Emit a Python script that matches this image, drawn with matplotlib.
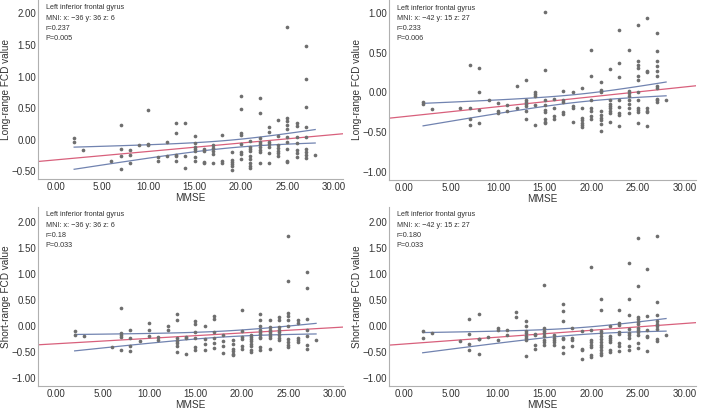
import numpy as np
import matplotlib
matplotlib.use("Agg")
import matplotlib.pyplot as plt

plt.rcParams['font.family'] = ['Liberation Sans', 'DejaVu Sans']

# FCD values grouped by MMSE score
long_a = {
    2: [0.03, -0.03], 3: [-0.16], 6: [-0.34], 7: [0.23, -0.15, -0.25, -0.46],
    8: [-0.16, -0.24, -0.37], 9: [-0.08], 10: [0.47, -0.06, -0.08],
    11: [-0.28, -0.33], 12: [-0.04, -0.26], 13: [0.26, 0.11, -0.24, -0.26, -0.34],
    14: [0.26, -0.26, -0.45], 15: [0.06, -0.05, -0.11, -0.14, -0.18, -0.27, -0.34],
    16: [-0.15, -0.18, -0.35, -0.37], 17: [-0.09, -0.13, -0.18, -0.22, -0.37],
    18: [0.08, -0.34, -0.36], 19: [-0.19, -0.32, -0.35, -0.38, -0.42, -0.47],
    20: [0.69, 0.49, 0.11, 0.07, -0.07, -0.19, -0.22, -0.31],
    21: [-0.02, -0.11, -0.14, -0.18, -0.25, -0.31, -0.37, -0.41, -0.45],
    22: [0.66, 0.43, 0.03, -0.03, -0.07, -0.11, -0.16, -0.20, -0.36],
    23: [0.20, 0.13, -0.03, -0.07, -0.11, -0.21, -0.36],
    24: [0.32, 0.06, -0.09, -0.13, -0.17, -0.21, -0.25],
    25: [1.79, 0.35, 0.29, 0.24, 0.17, 0.05, -0.03, -0.15, -0.33, -0.35],
    26: [0.27, 0.22, 0.05, -0.05, -0.16, -0.21, -0.27],
    27: [1.49, 0.96, 0.52, 0.21, 0.04, -0.15, -0.20, -0.24, -0.29],
    28: [-0.24],
}
long_b = {
    2: [-0.12, -0.15], 3: [-0.21], 6: [-0.20], 7: [0.34, -0.19, -0.34, -0.41],
    8: [0.30, 0.01, -0.22, -0.38], 9: [-0.09], 10: [-0.13, -0.23, -0.26],
    11: [-0.16, -0.23], 12: [0.08, -0.19],
    13: [0.15, -0.09, -0.12, -0.14, -0.17, -0.23, -0.33],
    14: [0.01, -0.02, -0.04, -0.16, -0.41],
    15: [1.01, 0.28, -0.09, -0.16, -0.22, -0.24, -0.34, -0.37, -0.39],
    16: [-0.08, -0.20, -0.30, -0.34], 17: [0.02, -0.09, -0.12, -0.24, -0.27],
    18: [0.00, -0.17, -0.19, -0.37], 19: [0.06, -0.20, -0.32, -0.35, -0.38, -0.41, -0.43],
    20: [0.53, 0.20, -0.09, -0.20, -0.23, -0.30, -0.34],
    21: [0.13, 0.03, 0.01, -0.23, -0.29, -0.32, -0.35, -0.40, -0.48],
    22: [0.29, -0.10, -0.14, -0.17, -0.20, -0.23, -0.26, -0.37],
    23: [0.78, 0.37, 0.19, -0.09, -0.18, -0.26, -0.29, -0.42],
    24: [0.53, 0.02, -0.01, -0.04, -0.09, -0.14, -0.19, -0.26],
    25: [0.85, 0.39, 0.35, 0.31, 0.20, 0.16, 0.01, -0.09, -0.19, -0.22, -0.25, -0.39],
    26: [0.93, 0.27, 0.25, -0.20, -0.23, -0.25, -0.42],
    27: [0.75, 0.52, 0.39, 0.33, 0.27, 0.21, 0.08, 0.05, -0.08, -0.10, -0.12],
    28: [-0.09],
}
short_a = {
    2: [-0.10, -0.18], 3: [-0.20], 6: [-0.42], 7: [0.34, -0.14, -0.18, -0.21, -0.47],
    8: [-0.08, -0.23, -0.40, -0.49], 9: [-0.29], 10: [0.05, -0.08, -0.19],
    11: [-0.22, -0.27], 12: [0.00, -0.08],
    13: [0.22, 0.10, -0.23, -0.29, -0.33, -0.40, -0.51], 14: [-0.21, -0.24, -0.54],
    15: [0.08, 0.03, -0.13, -0.23, -0.41, -0.46], 16: [0.00, -0.26, -0.35, -0.46],
    17: [0.19, 0.12, -0.13, -0.24, -0.33, -0.43], 18: [-0.18, -0.29, -0.40, -0.53],
    19: [-0.28, -0.35, -0.44, -0.49, -0.54, -0.57],
    20: [0.30, -0.10, -0.22, -0.26, -0.40, -0.44],
    21: [-0.18, -0.22, -0.26, -0.30, -0.35, -0.40, -0.47, -0.51],
    22: [0.22, 0.10, 0.00, -0.08, -0.12, -0.17, -0.21, -0.24, -0.42, -0.46],
    23: [0.10, -0.03, -0.08, -0.12, -0.16, -0.19, -0.23, -0.44],
    24: [0.17, 0.10, -0.03, -0.08, -0.13, -0.18, -0.23, -0.27],
    25: [1.73, 0.86, 0.25, 0.19, 0.10, 0.00, -0.26, -0.32, -0.37, -0.41],
    26: [0.10, 0.06, -0.24, -0.28, -0.32],
    27: [1.04, 0.72, 0.12, -0.09, -0.19, -0.38, -0.45],
    28: [-0.28],
}
short_b = {
    2: [-0.11, -0.23], 3: [-0.14], 6: [-0.30], 7: [0.13, -0.17, -0.36, -0.47],
    8: [0.23, -0.25, -0.26, -0.55], 9: [-0.22], 10: [-0.04, -0.08, -0.27],
    11: [-0.09, -0.18], 12: [0.27, 0.16],
    13: [0.08, 0.00, -0.11, -0.15, -0.20, -0.23, -0.27, -0.58],
    14: [-0.16, -0.18, -0.37, -0.45],
    15: [0.78, -0.04, -0.10, -0.15, -0.20, -0.27, -0.32, -0.37],
    16: [-0.18, -0.23, -0.27, -0.32, -0.37],
    17: [0.42, 0.29, 0.08, -0.23, -0.26, -0.42, -0.53],
    18: [-0.04, -0.23, -0.27, -0.40], 19: [-0.11, -0.44, -0.47, -0.65],
    20: [1.13, -0.09, -0.27, -0.32, -0.37, -0.41, -0.56, -0.60],
    21: [0.51, 0.30, -0.10, -0.15, -0.19, -0.26, -0.32, -0.37, -0.42, -0.47, -0.52, -0.56],
    22: [-0.01, -0.20, -0.23, -0.28, -0.32, -0.47, -0.51],
    23: [0.30, 0.06, 0.02, -0.13, -0.17, -0.34, -0.39, -0.48],
    24: [1.21, 0.51, 0.21, -0.06, -0.15, -0.18, -0.23, -0.40, -0.47],
    25: [1.68, 0.77, 0.16, 0.12, 0.07, 0.03, -0.04, -0.09, -0.13, -0.18, -0.34, -0.43],
    26: [1.09, 0.18, -0.08, -0.20, -0.22, -0.49],
    27: [1.72, 0.45, 0.21, 0.08, 0.03, -0.01, -0.06, -0.25, -0.29],
    28: [-0.18],
}

datasets = [long_a, long_b, short_a, short_b]
ylabels = ['Long-range FCD value', 'Long-range FCD value',
           'Short-range FCD value', 'Short-range FCD value']
notes = [
    'Left inferior frontal gyrus\nMNI: x: \u221236 y: 36 z: 6\nr=0.237\nP=0.005',
    'Left inferior frontal gyrus\nMNI: x: \u221242 y: 15 z: 27\nr=0.233\nP=0.006',
    'Left inferior frontal gyrus\nMNI: x: \u221236 y: 36 z: 6\nr=0.18\nP=0.033',
    'Left inferior frontal gyrus\nMNI: x: \u221242 y: 15 z: 27\nr=0.180\nP=0.033',
]
yticks = [np.arange(-0.5, 2.01, 0.5), np.arange(-1.0, 1.01, 0.5),
          np.arange(-1.0, 2.01, 0.5), np.arange(-1.0, 2.01, 0.5)]
ylims = [(-0.62, 2.21), (-1.1, 1.16), (-1.16, 2.28), (-1.16, 2.28)]
xlims = [(-1.9, 31.0), (-1.65, 31.2), (-1.95, 30.9), (-1.6, 31.2)]

# axes boxes in pixels: left, right, bottom, top
W, H = 701, 411
boxes = [(38, 343, 179, 0), (389, 696, 180, 0),
         (38, 343, 386, 207), (389, 696, 386, 207)]

fig = plt.figure(figsize=(W / 100, H / 100), dpi=100)

for i in range(4):
    l, r, b, t = boxes[i]
    ax = fig.add_axes([l / W, 1 - b / H, (r - l) / W, (b - t) / H])
    d = datasets[i]
    x = np.array([k for k in d for _ in d[k]], dtype=float)
    y = np.array([v for k in d for v in d[k]])

    # fit line at total + 95% CI of the mean
    slope, icpt = np.polyfit(x, y, 1)
    n = len(x)
    resid = y - (slope * x + icpt)
    s = np.sqrt(np.sum(resid ** 2) / (n - 2))
    sxx = np.sum((x - x.mean()) ** 2)
    xr = np.linspace(x.min(), x.max(), 100)
    half = 1.98 * s * np.sqrt(1 / n + (xr - x.mean()) ** 2 / sxx)
    xf = np.array(xlims[i])

    ax.plot(xf, slope * xf + icpt, color='#d8607c', lw=0.9, zorder=2)
    ax.plot(xr, slope * xr + icpt + half, color='#7183b0', lw=0.9, zorder=2)
    ax.plot(xr, slope * xr + icpt - half, color='#7183b0', lw=0.9, zorder=2)
    ax.scatter(x, y, s=7, color='#6e6e6e', linewidths=0, zorder=3)

    ax.set_xlim(xlims[i])
    ax.set_ylim(ylims[i])
    ax.set_xticks(np.arange(0, 31, 5))
    ax.set_xticklabels(['%.2f' % v for v in np.arange(0, 31, 5)])
    ax.set_yticks(yticks[i])
    ax.set_yticklabels(['%.2f' % v if v >= 0 else '\u2212%.2f' % -v for v in yticks[i]])
    ax.tick_params(length=0, labelsize=7, colors='#333333')
    ax.tick_params(axis='y', pad=1.5)
    ax.tick_params(axis='x', pad=2.5)
    for sp in ['top', 'right']:
        ax.spines[sp].set_visible(False)
    for sp in ['left', 'bottom']:
        ax.spines[sp].set_color('#b0b0b0')
        ax.spines[sp].set_linewidth(0.8)
    ax.set_xlabel('MMSE', fontsize=7.2, color='#333333', labelpad=0.5)
    ax.set_ylabel(ylabels[i], fontsize=7.2, color='#333333', labelpad=0.6)
    ax.text(0.025, 0.975, notes[i], transform=ax.transAxes, fontsize=5.2,
            va='top', ha='left', color='#333333', linespacing=1.62)

fig.savefig('out.png', dpi=100)
